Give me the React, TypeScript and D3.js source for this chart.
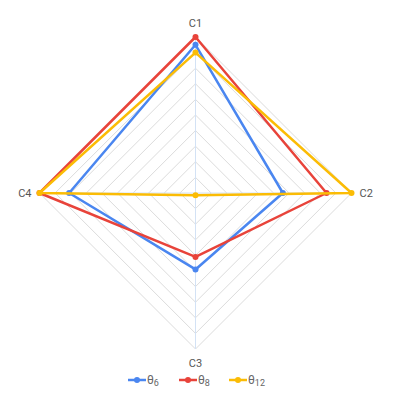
import React, { useEffect, useRef } from "react";
import * as d3 from "d3";

// axis names, clockwise from the top
const categories = ["C1", "C2", "C3", "C4"];

const seriesNames = ["6", "8", "12"];
const theta6 = [0.95, 0.56, 0.49, 0.81];
const theta8 = [1.0, 0.84, 0.41, 1.0];
const theta12 = [0.9, 1.0, 0.015, 1.0];

const colors = ["#4a86f0", "#e8433a", "#fbbc05"];

const App = () => {
  const svgRef = useRef<SVGSVGElement>(null);

  useEffect(() => {
    const svg = d3.select(svgRef.current);
    svg.selectChildren().remove();

    const cx = 195.5,
      cy = 193,
      radius = 156,
      levels = 10;

    const r = d3.scaleLinear().domain([0, 1]).range([0, radius]);
    const angle = d3
      .scalePoint<string>()
      .domain(categories)
      .range([0, (2 * Math.PI * (categories.length - 1)) / categories.length]);

    const pt = (c: string, v: number): [number, number] => {
      const a = (angle(c) || 0) - Math.PI / 2;
      return [cx + r(v) * Math.cos(a), cy + r(v) * Math.sin(a)];
    };

    const g = svg.append("g");

    // concentric grid
    d3.range(1, levels + 1).forEach((l) => {
      const pts = categories.map((c) => pt(c, l / levels));
      g.append("path")
        .attr("d", d3.line()(pts) + "Z")
        .attr("fill", "none")
        .attr("stroke", "#dcdcdc")
        .attr("stroke-width", 1);
    });

    // spokes
    categories.forEach((c) => {
      const [x, y] = pt(c, 1);
      g.append("line")
        .attr("x1", cx)
        .attr("y1", cy)
        .attr("x2", x)
        .attr("y2", y)
        .attr("stroke", "#d3e2f5")
        .attr("stroke-width", 1);
    });

    // category labels
    const labelOff = 14;
    categories.forEach((c, i) => {
      const a = (angle(c) || 0) - Math.PI / 2;
      const x = cx + (radius + labelOff) * Math.cos(a);
      const y = cy + (radius + labelOff) * Math.sin(a);
      g.append("text")
        .attr("x", i === 1 ? x - 6 : i === 3 ? x + 6 : x)
        .attr("y", y)
        .attr("dy", "0.35em")
        .attr("text-anchor", i === 1 ? "start" : i === 3 ? "end" : "middle")
        .attr("font-family", "Roboto, Arial, sans-serif")
        .attr("font-size", 11)
        .attr("fill", "#555")
        .text(c);
    });

    // series
    const allSeries = [theta6, theta8, theta12];
    allSeries.forEach((vals, si) => {
      const pts = categories.map((c, i) => pt(c, vals[i]));
      g.append("path")
        .attr("d", d3.line()(pts) + "Z")
        .attr("fill", "none")
        .attr("stroke", colors[si])
        .attr("stroke-width", 2.5)
        .attr("stroke-linejoin", "round");
      g.append("g")
        .selectAll("circle")
        .data(pts)
        .enter()
        .append("circle")
        .attr("cx", (d) => d[0])
        .attr("cy", (d) => d[1])
        .attr("r", 3)
        .attr("fill", colors[si]);
    });

    // legend
    const legendX = d3.scaleLinear().domain([0, 1]).range([128, 179]);
    const ly = 380;
    seriesNames.forEach((name, i) => {
      const x0 = legendX(i) - (i === 2 ? 1 : 0);
      const lg = svg.append("g");
      lg.append("line")
        .attr("x1", x0)
        .attr("x2", x0 + 18)
        .attr("y1", ly)
        .attr("y2", ly)
        .attr("stroke", colors[i])
        .attr("stroke-width", 2.5);
      lg.append("circle")
        .attr("cx", x0 + 9)
        .attr("cy", ly)
        .attr("r", 3)
        .attr("fill", colors[i]);
      const t = lg
        .append("text")
        .attr("x", x0 + 19)
        .attr("y", ly + 4)
        .attr("font-family", "Roboto, Arial, sans-serif")
        .attr("font-size", 12)
        .attr("fill", "#666");
      t.append("tspan").text("θ");
      t.append("tspan")
        .attr("font-size", 9)
        .attr("dy", 2)
        .text(name);
    });
  }, []);

  return (
    <svg
      ref={svgRef}
      width={393}
      height={402}
      style={{ position: "absolute", left: 0, top: 0 }}
    ></svg>
  );
};

export default App;
